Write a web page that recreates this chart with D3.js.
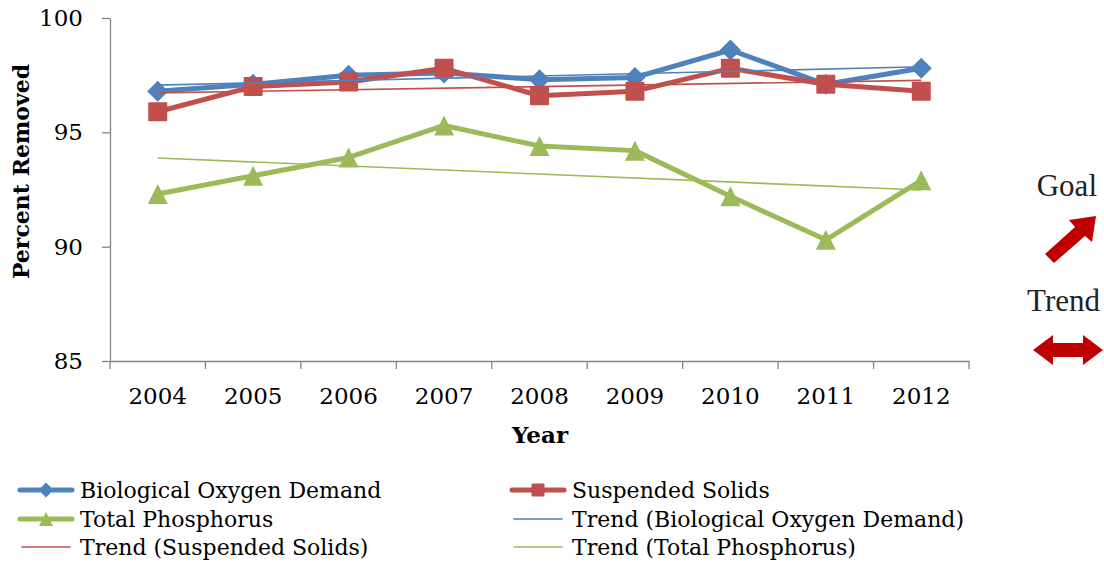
<!DOCTYPE html>
<html>
<head>
<meta charset="utf-8">
<script src="https://cdn.jsdelivr.net/npm/d3@7"></script>
<style>
  body { margin: 0; background: #fff; overflow: hidden; }
  svg { display: block; }
</style>
</head>
<body>
<div id="chart"></div>
<script>
const years = ["2004", "2005", "2006", "2007", "2008", "2009", "2010", "2011", "2012"];
const bodValues = [96.8, 97.1, 97.5, 97.6, 97.3, 97.4, 98.6, 97.1, 97.8];
const ssValues = [95.9, 97.0, 97.2, 97.8, 96.6, 96.8, 97.8, 97.1, 96.8];
const tpValues = [92.3, 93.1, 93.9, 95.3, 94.4, 94.2, 92.2, 90.3, 92.9];
const yTicks = [85, 90, 95, 100];

const seriesList = [
  { name: "Biological Oxygen Demand", values: bodValues, color: "#4F81BD", marker: "diamond" },
  { name: "Suspended Solids", values: ssValues, color: "#C0504D", marker: "square" },
  { name: "Total Phosphorus", values: tpValues, color: "#9BBB59", marker: "triangle" }
];

const legendOrder = [
  { label: "Biological Oxygen Demand", s: 0, trend: false },
  { label: "Suspended Solids", s: 1, trend: false },
  { label: "Total Phosphorus", s: 2, trend: false },
  { label: "Trend (Biological Oxygen Demand)", s: 0, trend: true },
  { label: "Trend (Suspended Solids)", s: 1, trend: true },
  { label: "Trend (Total Phosphorus)", s: 2, trend: true }
];

// least squares fit, like the excel trendline
function linearFit(vals) {
  const n = vals.length;
  const mx = (n - 1) / 2;
  const my = d3.mean(vals);
  let num = 0, den = 0;
  vals.forEach((v, i) => { num += (i - mx) * (v - my); den += (i - mx) * (i - mx); });
  const slope = num / den;
  return i => my + slope * (i - mx);
}

const width = 1104;
const height = 562;
const margin = { top: 18, left: 110 };
const innerWidth = 859;
const innerHeight = 343;

const svg = d3.select("#chart")
  .append("svg")
  .attr("width", width)
  .attr("height", height)
  .attr("viewBox", `0 0 ${width} ${height}`);

const g = svg.append("g")
  .attr("transform", `translate(${margin.left},${margin.top})`);

const x = d3.scaleBand()
  .domain(years)
  .range([0, innerWidth])
  .padding(0);

const cx = d => x(d) + x.bandwidth() / 2;

const y = d3.scaleLinear()
  .domain([85, 100])
  .range([innerHeight, 0]);

const axisColor = "#868686";
const serif = "'DejaVu Serif', serif";

// y axis
const yAxis = g.append("g")
  .call(d3.axisLeft(y).tickValues(yTicks).tickSize(8).tickSizeOuter(0).tickPadding(19));
yAxis.select(".domain").attr("stroke", axisColor).attr("stroke-width", 1.3);
yAxis.selectAll(".tick line").attr("stroke", axisColor).attr("stroke-width", 1.3);
yAxis.selectAll("text")
  .style("font-family", serif)
  .style("font-size", "23px")
  .attr("fill", "#000");

// x axis
const xAxis = g.append("g")
  .attr("transform", `translate(0,${innerHeight})`)
  .call(d3.axisBottom(x).tickSize(0).tickPadding(27));
xAxis.select(".domain").attr("stroke", axisColor).attr("stroke-width", 1.3);
xAxis.selectAll("text")
  .style("font-family", serif)
  .style("font-size", "23px")
  .attr("fill", "#000");

xAxis.selectAll(".edge")
  .data(years.concat(["end"]))
  .enter()
  .append("line")
  .attr("class", "edge")
  .attr("x1", d => d === "end" ? innerWidth : x(d))
  .attr("x2", d => d === "end" ? innerWidth : x(d))
  .attr("y1", 0)
  .attr("y2", 8)
  .attr("stroke", axisColor)
  .attr("stroke-width", 1.3);

// axis titles
g.append("text")
  .attr("transform", "rotate(-90)")
  .attr("x", -innerHeight / 2 + 18)
  .attr("y", -81)
  .attr("text-anchor", "middle")
  .style("font-family", serif)
  .style("font-size", "22px")
  .style("font-weight", "bold")
  .text("Percent Removed");

g.append("text")
  .attr("x", 430)
  .attr("y", 443 - margin.top)
  .attr("text-anchor", "middle")
  .style("font-family", serif)
  .style("font-size", "23px")
  .style("font-weight", "bold")
  .text("Year");

const line = d3.line()
  .x((d, i) => cx(years[i]))
  .y(d => y(d));

function drawMarker(sel, type, color, size) {
  const h = size / 2;
  if (type === "diamond") {
    sel.append("path").attr("d", `M0,${-h}L${h},0L0,${h}L${-h},0Z`).attr("fill", color);
  } else if (type === "square") {
    sel.append("rect").attr("x", -h).attr("y", -h).attr("width", size).attr("height", size)
      .attr("rx", 1).attr("fill", color);
  } else {
    sel.append("path").attr("d", `M0,${-h}L${h},${h}L${-h},${h}Z`).attr("fill", color);
  }
}

const markerSize = { diamond: 21, square: 19, triangle: 20 };
const legendMarkerSize = { diamond: 15, square: 13, triangle: 14 };

// data lines
seriesList.forEach(s => {
  g.append("path")
    .datum(s.values)
    .attr("fill", "none")
    .attr("stroke", s.color)
    .attr("stroke-width", 5)
    .attr("stroke-linejoin", "round")
    .attr("d", line);

  s.values.forEach((v, i) => {
    const m = g.append("g").attr("transform", `translate(${cx(years[i])},${y(v)})`);
    drawMarker(m, s.marker, s.color, markerSize[s.marker]);
  });
});

// trend lines
seriesList.forEach(s => {
  const fit = linearFit(s.values);
  const ends = [0, years.length - 1];
  g.append("line")
    .attr("x1", cx(years[ends[0]]))
    .attr("y1", y(fit(ends[0])))
    .attr("x2", cx(years[ends[1]]))
    .attr("y2", y(fit(ends[1])))
    .attr("stroke", s.color)
    .attr("stroke-width", 1.6);
});

// legend
const legend = svg.append("g");
const legendCols = [20, 512];
const legendRows = [490, 519, 547];
legendOrder.forEach((d, i) => {
  const s = seriesList[d.s];
  const lx = legendCols[i % 2];
  const ly = legendRows[Math.floor(i / 2)];
  const row = legend.append("g").attr("transform", `translate(${lx},${ly})`);
  row.append("line")
    .attr("x1", d.trend ? 2 : 0).attr("x2", d.trend ? 50 : 52)
    .attr("y1", 0).attr("y2", 0)
    .attr("stroke", s.color)
    .attr("stroke-width", d.trend ? 1.6 : 5)
    .attr("stroke-linecap", "round");
  if (!d.trend) {
    const m = row.append("g").attr("transform", "translate(26,0)");
    drawMarker(m, s.marker, s.color, legendMarkerSize[s.marker]);
  }
  row.append("text")
    .attr("x", 60)
    .attr("y", 8)
    .style("font-family", serif)
    .style("font-size", "22px")
    .attr("fill", "#000")
    .text(d.label);
});

// goal / trend side note
const note = svg.append("g");
note.append("text")
  .attr("x", 1097).attr("y", 196)
  .attr("text-anchor", "end")
  .style("font-family", "'Liberation Serif', serif")
  .style("font-size", "31px")
  .attr("fill", "#222")
  .text("Goal");
note.append("text")
  .attr("x", 1100).attr("y", 311)
  .attr("text-anchor", "end")
  .style("font-family", "'Liberation Serif', serif")
  .style("font-size", "31px")
  .attr("fill", "#222")
  .text("Trend");

// diagonal goal arrow
note.append("path")
  .attr("d", "M1045,254 L1075,227 L1069,220 L1096,216 L1092,242 L1085,236 L1054,263 Z")
  .attr("fill", "#C00000");
// two-headed trend arrow
note.append("path")
  .attr("d", "M1033,350 L1053,335 L1053,343 L1083,343 L1083,335 L1103,350 L1083,365 L1083,357 L1053,357 L1053,365 Z")
  .attr("fill", "#C00000");
</script>
</body>
</html>
